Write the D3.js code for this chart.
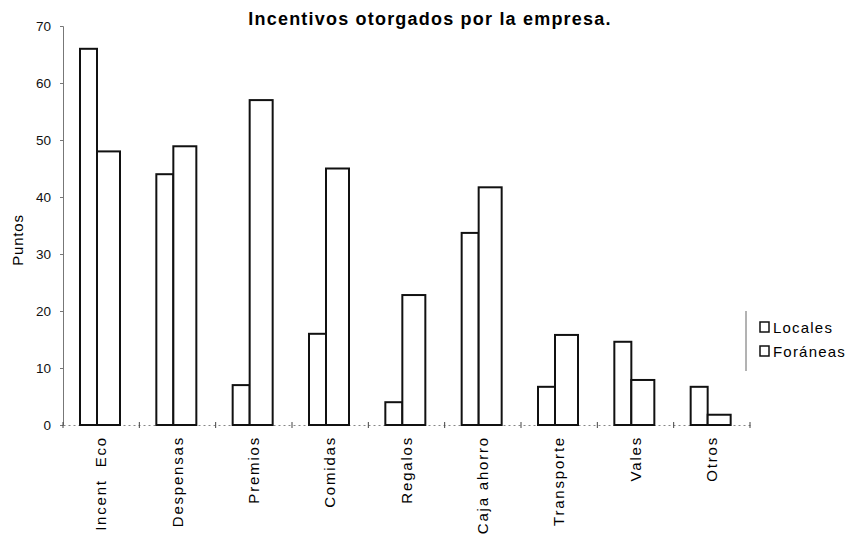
<!DOCTYPE html>
<html><head><meta charset="utf-8">
<script src="https://cdn.jsdelivr.net/npm/d3@7/dist/d3.min.js"></script>
<style>body{margin:0;background:#fff}svg{display:block;font-family:"Liberation Sans",Arial,sans-serif}</style>
</head><body><svg id="c" width="857" height="544"></svg>
<script>
const categories = ["Incent  Eco","Despensas","Premios","Comidas","Regalos","Caja ahorro","Transporte","Vales","Otros"];
const locales = [66,44,7,16,4,33.7,6.7,14.6,6.7];
const foraneas = [48,48.9,57,45,22.8,41.7,15.8,7.9,1.8];
const seriesNames = ["Locales","Foráneas"];
const yTicks = [0,10,20,30,40,50,60,70];

const svg = d3.select("#c");
const m = {l:63, r:107, t:26, b:119};
const x = d3.scaleBand().domain(categories).range([m.l, 750]);
const y = d3.scaleLinear().domain([0,70]).range([425, 26]);

svg.append("text").attr("x",430).attr("y",25).attr("text-anchor","middle")
  .attr("font-weight","bold").attr("font-size",18).attr("letter-spacing",1.2)
  .text("Incentivos otorgados por la empresa.");

// y axis
const ya = svg.append("g").attr("transform",`translate(${m.l},0)`)
  .call(d3.axisLeft(y).tickValues(yTicks).tickSize(3).tickPadding(9));
ya.select(".domain").attr("stroke","#777");
ya.selectAll(".tick line").attr("stroke","#777");
ya.selectAll("text").attr("font-size",13.5).attr("font-family","Liberation Sans, Arial, sans-serif").attr("fill","#111");

svg.append("text").attr("transform","translate(23,240) rotate(-90)").attr("text-anchor","middle")
  .attr("font-size",15).attr("letter-spacing",0.8).text("Puntos");

// x axis
const xa = svg.append("g").attr("transform",`translate(0,${y(0)})`)
  .call(d3.axisBottom(x).tickSize(0).tickFormat(""));
xa.select(".domain").attr("stroke","#888").attr("stroke-dasharray","2,3");
const bounds = categories.map(c => x(c)).concat([x.range()[1]]);
svg.append("g").selectAll("line").data(bounds).join("line")
  .attr("x1",d=>d).attr("x2",d=>d).attr("y1",y(0)-3).attr("y2",y(0)+3)
  .attr("stroke","#444").attr("stroke-width",1);

const lw = 17, fw = 23, off = 17;
const g = svg.append("g").attr("fill","#fff").attr("stroke","#111").attr("stroke-width",2);
g.selectAll("rect.l").data(categories).join("rect").attr("class","l")
  .attr("x",c=>x(c)+off).attr("width",lw)
  .attr("y",(c,i)=>y(locales[i])).attr("height",(c,i)=>y(0)-y(locales[i]));
g.selectAll("rect.f").data(categories).join("rect").attr("class","f")
  .attr("x",c=>x(c)+off+lw).attr("width",fw)
  .attr("y",(c,i)=>y(foraneas[i])).attr("height",(c,i)=>y(0)-y(foraneas[i]));

// x labels
svg.append("g").selectAll("text").data(categories).join("text")
  .attr("xml:space","preserve").style("white-space","pre")
  .attr("transform",c=>`translate(${x(c)+x.bandwidth()/2+5},436) rotate(-90)`)
  .attr("text-anchor","end").attr("font-size",15).attr("letter-spacing",1.8).text(d=>d);

// legend
svg.append("line").attr("x1",746).attr("x2",746).attr("y1",311).attr("y2",371).attr("stroke","#666");
const lg = svg.append("g").selectAll("g").data(seriesNames).join("g")
  .attr("transform",(d,i)=>`translate(760,${322+i*24})`);
lg.append("rect").attr("width",9).attr("height",10).attr("fill","#fff").attr("stroke","#111").attr("stroke-width",1.5);
lg.append("text").attr("x",13).attr("y",11).attr("font-size",15).attr("letter-spacing",1.2).text(d=>d);
</script></body></html>
